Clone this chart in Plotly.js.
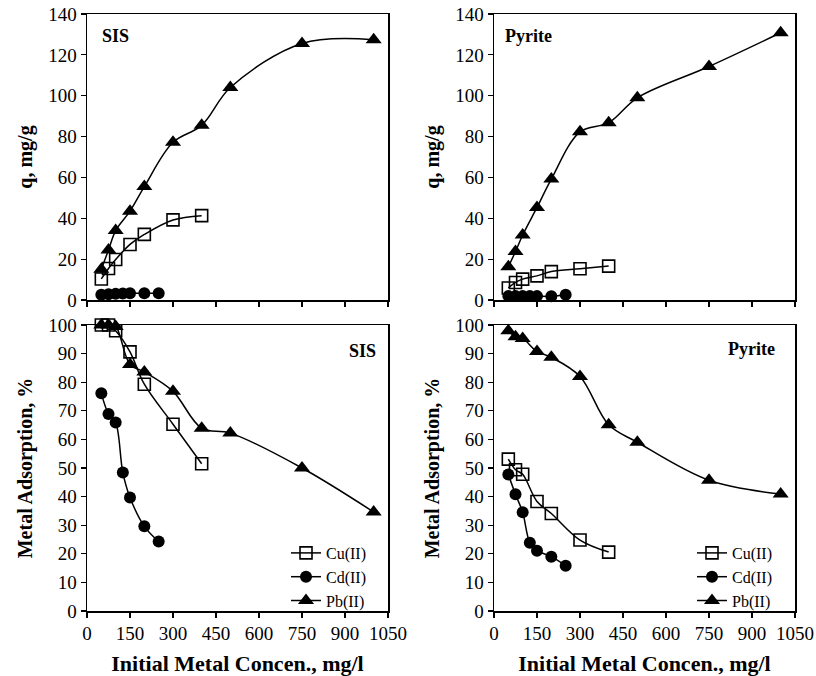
<!DOCTYPE html>
<html><head><meta charset="utf-8">
<script src="https://cdn.plot.ly/plotly-3.0.1.min.js"></script>
<style>html,body{margin:0;padding:0;background:#fff}#c{width:816px;height:676px}</style>
</head><body><div id="c"></div>
<script>
// Initial metal concentration (mg/l)
const xCu = [50, 75, 100, 150, 200, 300, 400];
const xCd = [50, 75, 100, 125, 150, 200, 250];
const xPb = [50, 75, 100, 150, 200, 300, 400, 500, 750, 1000];

// SIS: uptake q (mg/g)
const sisQCu = [10.3, 15.4, 19.8, 27.2, 32.1, 39.2, 41.3];
const sisQCd = [2.6, 2.8, 3.0, 3.2, 3.3, 3.3, 3.3];
const sisQPb = [15.0, 24.5, 34.0, 43.5, 55.5, 77.2, 85.5, 104.0, 125.6, 127.4];
// Pyrite: uptake q (mg/g)
const pyrQCu = [5.9, 8.6, 10.2, 11.8, 13.9, 15.3, 16.6];
const pyrQCd = [1.9, 1.9, 1.9, 1.9, 1.9, 1.8, 2.6];
const pyrQPb = [16.3, 23.7, 31.8, 45.3, 59.2, 82.3, 86.8, 99.0, 114.3, 130.8];

// SIS: metal adsorption (%)
const sisPCu = [100, 100, 98, 90.6, 79.3, 65.3, 51.5];
const sisPCd = [76.1, 68.9, 65.9, 48.4, 39.7, 29.6, 24.3];
const sisPPb = [100, 100, 99.5, 86.2, 83.6, 76.8, 63.9, 62.2, 50.0, 34.6];
// Pyrite: metal adsorption (%)
const pyrPCu = [53.1, 49.4, 47.8, 38.3, 34.1, 24.8, 20.6];
const pyrPCd = [47.7, 40.8, 34.5, 23.9, 21.1, 19.0, 15.8];
const pyrPPb = [98.0, 95.9, 95.3, 90.7, 88.7, 82.0, 65.1, 59.0, 45.7, 40.9];

const names = ['Cu(II)', 'Cd(II)', 'Pb(II)'];
const xTicks = [0, 150, 300, 450, 600, 750, 900, 1050];

const serif = "'Liberation Serif', 'Times New Roman', serif";
const markers = [
  {symbol: 'square-open', size: 12, color: '#000', line: {width: 1.6, color: '#000'}},
  {symbol: 'circle', size: 12, color: '#000'},
  {symbol: 'triangle-up', size: 14, color: '#000'}
];
function tr(x, y, i, xa, ya, show, leg) {
  return {x: x, y: y, xaxis: xa, yaxis: ya, name: names[i], mode: 'lines+markers',
    type: 'scatter', line: {color: '#000', width: 1.5, shape: 'spline', smoothing: 1},
    marker: markers[i], showlegend: show, legend: leg, cliponaxis: false};
}
const data = [
  tr(xCu, sisQCu, 0, 'x', 'y', false), tr(xCd, sisQCd, 1, 'x', 'y', false), tr(xPb, sisQPb, 2, 'x', 'y', false),
  tr(xCu, pyrQCu, 0, 'x2', 'y2', false), tr(xCd, pyrQCd, 1, 'x2', 'y2', false), tr(xPb, pyrQPb, 2, 'x2', 'y2', false),
  tr(xCu, sisPCu, 0, 'x3', 'y3', true, 'legend'), tr(xCd, sisPCd, 1, 'x3', 'y3', true, 'legend'), tr(xPb, sisPPb, 2, 'x3', 'y3', true, 'legend'),
  tr(xCu, pyrPCu, 0, 'x4', 'y4', true, 'legend2'), tr(xCd, pyrPCd, 1, 'x4', 'y4', true, 'legend2'), tr(xPb, pyrPPb, 2, 'x4', 'y4', true, 'legend2')
];

const W = 816, H = 676;
const dxL = [87 / W, 388 / W], dxR = [494 / W, 795 / W];
const dyT = [1 - 300 / H, 1 - 14 / H], dyB = [1 - 611 / H, 1 - 325 / H];
const tickFont = {family: serif, size: 19, color: '#000'};
const titleFont = {family: serif, size: 20, color: '#000', weight: 'bold'};
const xTitleFont = {family: serif, size: 22, color: '#000', weight: 'bold'};

function xax(dom, anchor, labels) {
  const a = {domain: dom, anchor: anchor, range: [0, 1050], tickmode: 'array', tickvals: xTicks,
    showticklabels: labels, ticks: 'outside', ticklen: 5, tickwidth: 1.2, tickcolor: '#000',
    showline: true, linecolor: '#000', linewidth: 1.5, mirror: true, showgrid: false, zeroline: false,
    tickfont: tickFont};
  if (labels) a.title = {text: 'Initial Metal Concen., mg/l', font: xTitleFont, standoff: 13};
  return a;
}
function yax(dom, anchor, max, dt, title) {
  return {domain: dom, anchor: anchor, range: [0, max], dtick: dt, tick0: 0,
    ticks: 'outside', ticklen: 5, tickwidth: 1.2, tickcolor: '#000',
    showline: true, linecolor: '#000', linewidth: 1.5, mirror: true, showgrid: false, zeroline: false,
    tickfont: tickFont, title: {text: title, font: titleFont, standoff: 10}};
}
const legFont = {family: serif, size: 16, color: '#000'};
const layout = {
  width: W, height: H, margin: {l: 0, r: 0, t: 0, b: 0},
  paper_bgcolor: '#fff', plot_bgcolor: '#fff',
  xaxis: xax(dxL, 'y', false), yaxis: yax(dyT, 'x', 140, 20, 'q, mg/g'),
  xaxis2: xax(dxR, 'y2', false), yaxis2: yax(dyT, 'x2', 140, 20, 'q, mg/g'),
  xaxis3: xax(dxL, 'y3', true), yaxis3: yax(dyB, 'x3', 100, 10, 'Metal Adsorption, %'),
  xaxis4: xax(dxR, 'y4', true), yaxis4: yax(dyB, 'x4', 100, 10, 'Metal Adsorption, %'),
  legend: {x: 286 / W, y: 1 - 577 / H, xanchor: 'left', yanchor: 'middle', font: legFont,
    bgcolor: 'rgba(0,0,0,0)', tracegroupgap: 0, itemwidth: 30},
  legend2: {x: 692 / W, y: 1 - 577 / H, xanchor: 'left', yanchor: 'middle', font: legFont,
    bgcolor: 'rgba(0,0,0,0)', tracegroupgap: 0, itemwidth: 30},
  annotations: [
    {text: 'SIS', xref: 'paper', yref: 'paper', x: 100 / W, y: 1 - 36 / H, xanchor: 'left', yanchor: 'middle', showarrow: false, font: {family: serif, size: 18, color: '#000', weight: 'bold'}},
    {text: 'Pyrite', xref: 'paper', yref: 'paper', x: 503 / W, y: 1 - 36 / H, xanchor: 'left', yanchor: 'middle', showarrow: false, font: {family: serif, size: 18, color: '#000', weight: 'bold'}},
    {text: 'SIS', xref: 'paper', yref: 'paper', x: 378 / W, y: 1 - 351 / H, xanchor: 'right', yanchor: 'middle', showarrow: false, font: {family: serif, size: 18, color: '#000', weight: 'bold'}},
    {text: 'Pyrite', xref: 'paper', yref: 'paper', x: 777 / W, y: 1 - 349 / H, xanchor: 'right', yanchor: 'middle', showarrow: false, font: {family: serif, size: 18, color: '#000', weight: 'bold'}}
  ]
};
Plotly.newPlot('c', data, layout, {displayModeBar: false, staticPlot: true});
</script></body></html>
